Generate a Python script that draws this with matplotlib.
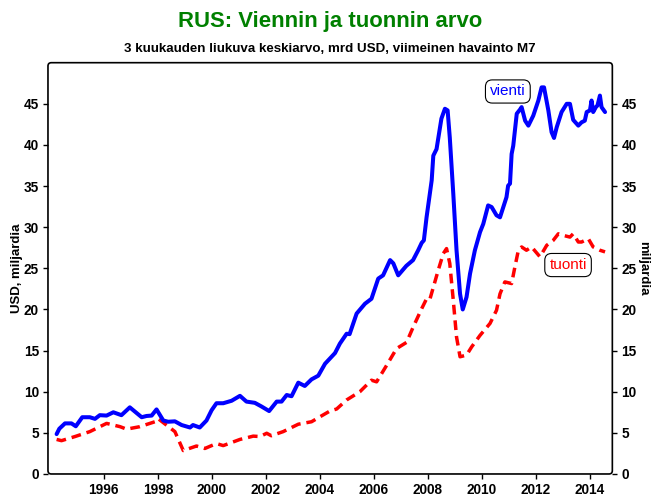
import matplotlib
matplotlib.use("Agg")
import matplotlib.pyplot as plt
from matplotlib.patches import FancyBboxPatch

BASE = "Liberation Sans"

# ---- data (decimal years, mrd USD, 3-month moving average) ----
vienti_t = [1994.25, 1994.35, 1994.56, 1994.80, 1994.96, 1995.20, 1995.48, 1995.67, 1995.85,
            1996.10, 1996.35, 1996.65, 1996.96, 1997.40, 1997.58, 1997.77, 1997.95, 1998.20,
            1998.38, 1998.63, 1998.88, 1999.19, 1999.30, 1999.55, 1999.80, 1999.99, 2000.17,
            2000.42, 2000.73, 2001.04, 2001.28, 2001.59, 2001.84, 2002.12, 2002.40, 2002.58,
            2002.77, 2002.95, 2003.20, 2003.44, 2003.69, 2003.94, 2004.19, 2004.56, 2004.74,
            2004.99, 2005.10, 2005.36, 2005.67, 2005.91, 2006.16, 2006.34, 2006.60, 2006.72,
            2006.90, 2007.20, 2007.45, 2007.64, 2007.77, 2007.85, 2007.95, 2008.14, 2008.20,
            2008.32, 2008.50, 2008.63, 2008.73, 2008.81, 2008.94, 2009.06, 2009.19, 2009.29,
            2009.43, 2009.56, 2009.74, 2009.93, 2010.05, 2010.23, 2010.36, 2010.54, 2010.67,
            2010.91, 2010.97, 2011.04, 2011.10, 2011.16, 2011.29, 2011.41, 2011.47, 2011.60,
            2011.72, 2011.90, 2012.09, 2012.21, 2012.30, 2012.46, 2012.58, 2012.67, 2012.77,
            2012.95, 2013.14, 2013.26, 2013.38, 2013.57, 2013.69, 2013.81, 2013.88, 2014.00,
            2014.06, 2014.12, 2014.22, 2014.28, 2014.37, 2014.43, 2014.56]
vienti = [4.85, 5.5, 6.15, 6.15, 5.8, 6.9, 6.9, 6.7, 7.15,
          7.1, 7.5, 7.15, 8.1, 6.9, 7.05, 7.1, 7.85, 6.5,
          6.35, 6.4, 5.95, 5.65, 5.95, 5.65, 6.5, 7.75, 8.6,
          8.6, 8.9, 9.5, 8.8, 8.65, 8.2, 7.65, 8.8, 8.8,
          9.6, 9.45, 11.1, 10.7, 11.5, 11.95, 13.4, 14.7, 15.85,
          17.05, 17.0, 19.5, 20.7, 21.3, 23.75, 24.15, 26.0, 25.6,
          24.15, 25.3, 26.0, 27.2, 28.1, 28.4, 31.2, 35.7, 38.7,
          39.5, 43.2, 44.4, 44.2, 40.9, 34.05, 27.2, 21.9, 20.0,
          21.5, 24.35, 27.2, 29.4, 30.4, 32.65, 32.45, 31.45, 31.2,
          33.65, 35.05, 35.3, 38.9, 39.9, 43.8, 44.3, 44.6, 42.95,
          42.35, 43.55, 45.4, 47.0, 47.0, 44.2, 41.55, 40.85, 42.15,
          44.0, 45.0, 45.0, 43.05, 42.35, 42.75, 42.95, 44.0, 44.2,
          45.4, 44.0, 44.6, 44.8, 46.0, 44.6, 44.0]

tuonti_t = [1994.25, 1994.43, 1994.93, 1995.48, 1996.10, 1996.60, 1996.84, 1997.33, 1997.89,
            1998.00, 1998.63, 1998.94, 1999.43, 1999.74, 2000.17, 2000.42, 2001.04, 2001.35,
            2001.53, 2001.78, 2002.03, 2002.20, 2002.64, 2003.20, 2003.69, 2004.00, 2004.37,
            2004.62, 2004.99, 2005.48, 2005.91, 2006.10, 2006.47, 2006.84, 2007.21, 2007.46,
            2007.77, 2007.95, 2008.07, 2008.38, 2008.57, 2008.69, 2008.81, 2008.94, 2009.06,
            2009.19, 2009.43, 2009.62, 2009.93, 2010.30, 2010.54, 2010.67, 2010.85, 2011.10,
            2011.22, 2011.35, 2011.47, 2011.65, 2011.84, 2012.15, 2012.40, 2012.64, 2012.83,
            2013.02, 2013.26, 2013.38, 2013.57, 2013.69, 2013.94, 2014.12, 2014.37, 2014.56]
tuonti = [4.2, 4.05, 4.55, 5.15, 6.15, 5.75, 5.45, 5.75, 6.35,
          6.75, 5.15, 2.85, 3.4, 3.1, 3.7, 3.45, 4.2, 4.45,
          4.6, 4.55, 4.95, 4.65, 5.15, 6.05, 6.35, 6.95, 7.65,
          7.9, 9.0, 10.0, 11.4, 11.2, 13.2, 15.25, 16.0, 17.9,
          20.1, 21.3, 21.2, 24.75, 26.8, 27.4, 25.6, 21.1, 16.65,
          14.25, 14.45, 15.45, 16.85, 18.3, 19.9, 21.9, 23.35, 23.15,
          25.15, 27.2, 27.6, 27.2, 27.6, 26.4, 27.8, 28.4, 29.2,
          29.0, 28.8, 29.2, 28.2, 28.2, 28.6, 27.6, 27.2, 27.0]

x_ticks = [1996, 1998, 2000, 2002, 2004, 2006, 2008, 2010, 2012, 2014]
y_ticks = [0, 5, 10, 15, 20, 25, 30, 35, 40, 45]

title = "RUS: Viennin ja tuonnin arvo"
subtitle = "3 kuukauden liukuva keskiarvo, mrd USD, viimeinen havainto M7"

# ---- figure ----
W, H = 659, 496
fig = plt.figure(figsize=(W / 100, H / 100), dpi=100)
ax = fig.add_axes([0.0728, 0.0444, 0.8564, 0.8292])

ax.plot(vienti_t, vienti, color="#0000ff", lw=2.9, solid_joinstyle="round",
        solid_capstyle="round", zorder=3)
ax.plot(tuonti_t, tuonti, color="#ff0000", lw=2.5, dashes=(2.8, 1.7), zorder=2)

ax.set_xlim(1993.93, 2014.83)
ax.set_ylim(0, 50)

for s in ax.spines.values():
    s.set_visible(False)
w_px, h_px = 0.8564 * W, 0.8292 * H
frame = FancyBboxPatch((0, 0), 1, 1, transform=ax.transAxes,
                       boxstyle="round,pad=0,rounding_size=0.006",
                       mutation_aspect=w_px / h_px, fill=False,
                       edgecolor="black", lw=1.2, clip_on=False, zorder=5)
ax.add_patch(frame)

ax.set_xticks(x_ticks)
ax.set_xticklabels([str(t) for t in x_ticks], fontfamily=BASE, fontweight="bold", fontsize=9.8)
ax.set_yticks(y_ticks)
ax.set_yticklabels([str(t) for t in y_ticks], fontfamily=BASE, fontweight="bold", fontsize=9.8)
ax.tick_params(axis="x", direction="out", length=3.5, width=1, pad=3)
ax.tick_params(axis="y", direction="out", length=3.5, width=1, pad=3,
               left=True, right=True, labelleft=True, labelright=True)

fig.text(17 / W, 1 - 268 / H, "USD, miljardia", fontfamily=BASE, fontweight="bold",
         fontsize=9.5, rotation=90, ha="center", va="center")
fig.text(643 / W, 1 - 268 / H, "miljardia", fontfamily=BASE, fontweight="bold",
         fontsize=9.5, rotation=-90, ha="center", va="center")

bbox = dict(boxstyle="round,pad=0.3,rounding_size=0.45", fc="white", ec="black", lw=0.8)
ax.text(2010.96, 46.5, "vienti", color="#0000ff", fontfamily=BASE, fontsize=11,
        ha="center", va="center", bbox=bbox, zorder=6)
ax.text(2013.19, 25.4, "tuonti", color="#ff0000", fontfamily=BASE, fontsize=11,
        ha="center", va="center", bbox=bbox, zorder=6)

t1 = fig.text(330 / W, 1 - 26.5 / H, title, color="#008000", fontfamily=BASE, fontsize=16,
              fontweight="bold", ha="center", va="baseline")
t2 = fig.text(330 / W, 1 - 52.5 / H, subtitle, color="black", fontfamily=BASE, fontsize=9.7,
              fontweight="bold", ha="center", va="baseline")

# fit text widths to the reference
renderer = fig.canvas.get_renderer()
for t, target in ((t1, 305.0), (t2, 414.0)):
    w = t.get_window_extent(renderer).width
    t.set_fontsize(t.get_fontsize() * target / w)

fig.savefig("out.png", dpi=100)
